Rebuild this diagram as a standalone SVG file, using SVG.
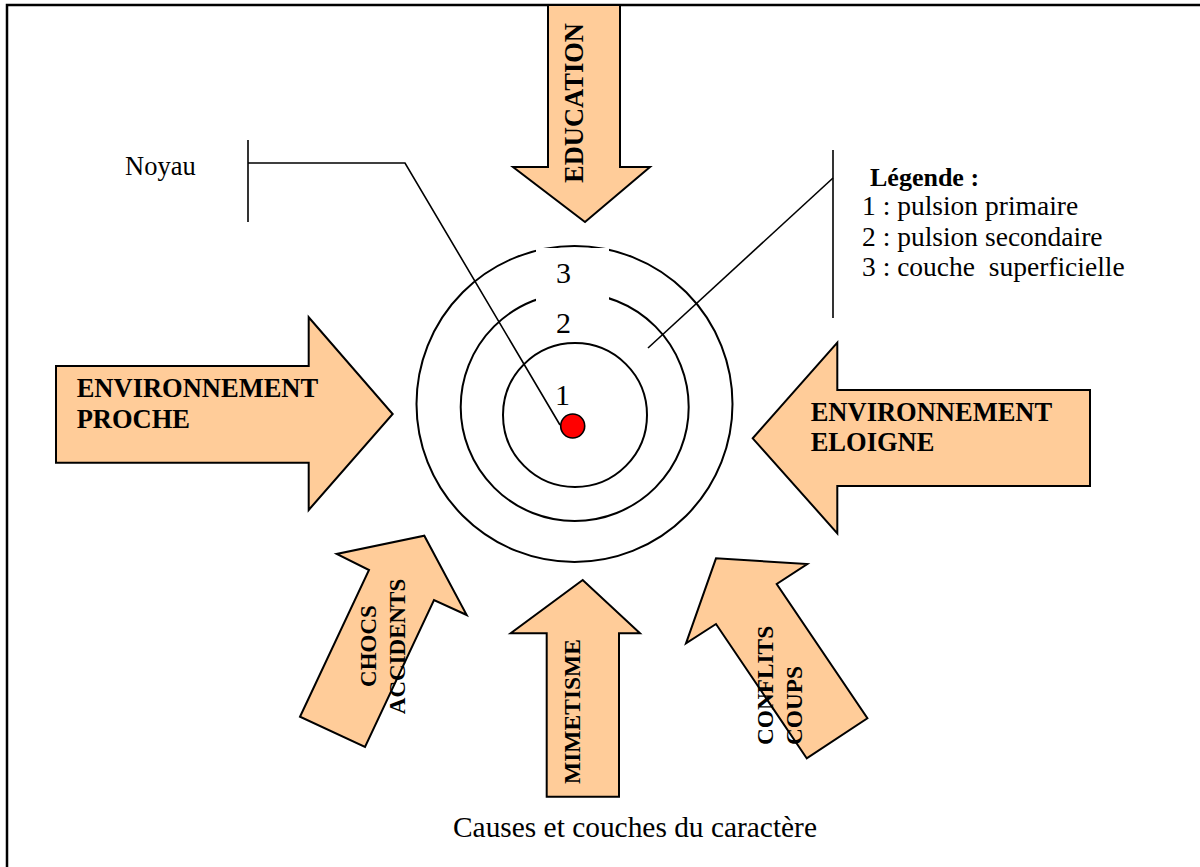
<svg xmlns="http://www.w3.org/2000/svg" width="1200" height="867" viewBox="0 0 1200 867">
<style>
.arrow{fill:#FFCC99;stroke:#000;stroke-width:2;stroke-linejoin:miter}
.ring{fill:none;stroke:#000;stroke-width:2}
.line{fill:none;stroke:#000;stroke-width:1.6}
.bold{font-family:"Liberation Serif","Times New Roman",serif;font-weight:bold;fill:#000}
.reg{font-family:"Liberation Serif","Times New Roman",serif;fill:#000}
</style>
<rect x="0" y="0" width="1200" height="867" fill="#fff"/>
<rect x="7" y="5" width="1210" height="900" fill="none" stroke="#000" stroke-width="2.5"/>

<g id="layers">
  <circle class="ring" cx="574.5" cy="404" r="158"/>
  <circle class="ring" cx="574.7" cy="407" r="114"/>
  <circle class="ring" cx="575" cy="415" r="72"/>
  <rect x="536" y="248" width="73" height="90" fill="#fff"/>
  <text class="reg" x="556" y="283" font-size="30">3</text>
  <text class="reg" x="556" y="333" font-size="30">2</text>
  <text class="reg" x="555" y="405" font-size="30">1</text>
  <circle cx="572.7" cy="426" r="12" fill="#FF0000" stroke="#000" stroke-width="1.6"/>
</g>

<g id="connectors">
  <line class="line" x1="248" y1="140" x2="248" y2="222"/>
  <polyline class="line" points="248,163 405,163 560,425"/>
  <line class="line" x1="833" y1="150" x2="833" y2="318"/>
  <line class="line" x1="833" y1="178" x2="648" y2="348"/>
</g>

<g id="noyau">
  <text class="reg" x="125" y="175" font-size="26.5">Noyau</text>
</g>

<g id="legende">
  <text class="bold" x="870" y="186" font-size="26">Légende :</text>
  <text class="reg" x="862" y="215" font-size="27.5">1 : pulsion primaire</text>
  <text class="reg" x="862" y="246" font-size="27.5">2 : pulsion secondaire</text>
  <text class="reg" x="862" y="276" font-size="27.5" xml:space="preserve">3 : couche  superficielle</text>
</g>

<g id="education">
  <polygon class="arrow" points="548,5 620,5 620,167 650,167 585,222 513,167 548,167"/>
  <text class="bold" transform="translate(583,103) rotate(-90)" text-anchor="middle" font-size="26.5">EDUCATION</text>
</g>

<g id="env-proche">
  <polygon class="arrow" points="56,366 308.7,366 308.7,317.3 392.7,414 308.7,510 308.7,462.7 56,462.7"/>
  <text class="bold" x="76.7" y="397" font-size="26.5">ENVIRONNEMENT</text>
  <text class="bold" x="76.7" y="428.3" font-size="26.5">PROCHE</text>
</g>

<g id="env-eloigne">
  <polygon class="arrow" points="1090,390 837.3,390 837.3,342.7 752.7,438.3 837.3,533.3 837.3,486 1090,486"/>
  <text class="bold" x="810.7" y="420.7" font-size="26.5">ENVIRONNEMENT</text>
  <text class="bold" x="810.7" y="451" font-size="26.5">ELOIGNE</text>
</g>

<g id="chocs">
  <polygon class="arrow" points="300,716.7 369,570 336.7,554 424.3,535.7 466.7,615 434,600 365,747"/>
  <text class="bold" transform="translate(376,646) rotate(-90)" text-anchor="middle" font-size="23">CHOCS</text>
  <text class="bold" transform="translate(405,646.5) rotate(-90)" text-anchor="middle" font-size="23">ACCIDENTS</text>
</g>

<g id="mimetisme">
  <polygon class="arrow" points="546.7,796.7 546.7,633.3 510.7,633.3 582.7,580 640,633.3 619,633.3 619,796.7"/>
  <text class="bold" transform="translate(580,711.5) rotate(-90)" text-anchor="middle" font-size="23.5">MIMETISME</text>
</g>

<g id="conflits">
  <polygon class="arrow" points="806.7,758.3 716,624 686,643.3 716,558.3 807.3,564 776.7,584 867.4,718.3"/>
  <text class="bold" transform="translate(773,745) rotate(-90)" font-size="23.3">CONFLITS</text>
  <text class="bold" transform="translate(801.7,745) rotate(-90)" font-size="23.3">COUPS</text>
</g>

<g id="caption">
  <text class="reg" x="453" y="837" font-size="29.4">Causes et couches du caractère</text>
</g>
</svg>
